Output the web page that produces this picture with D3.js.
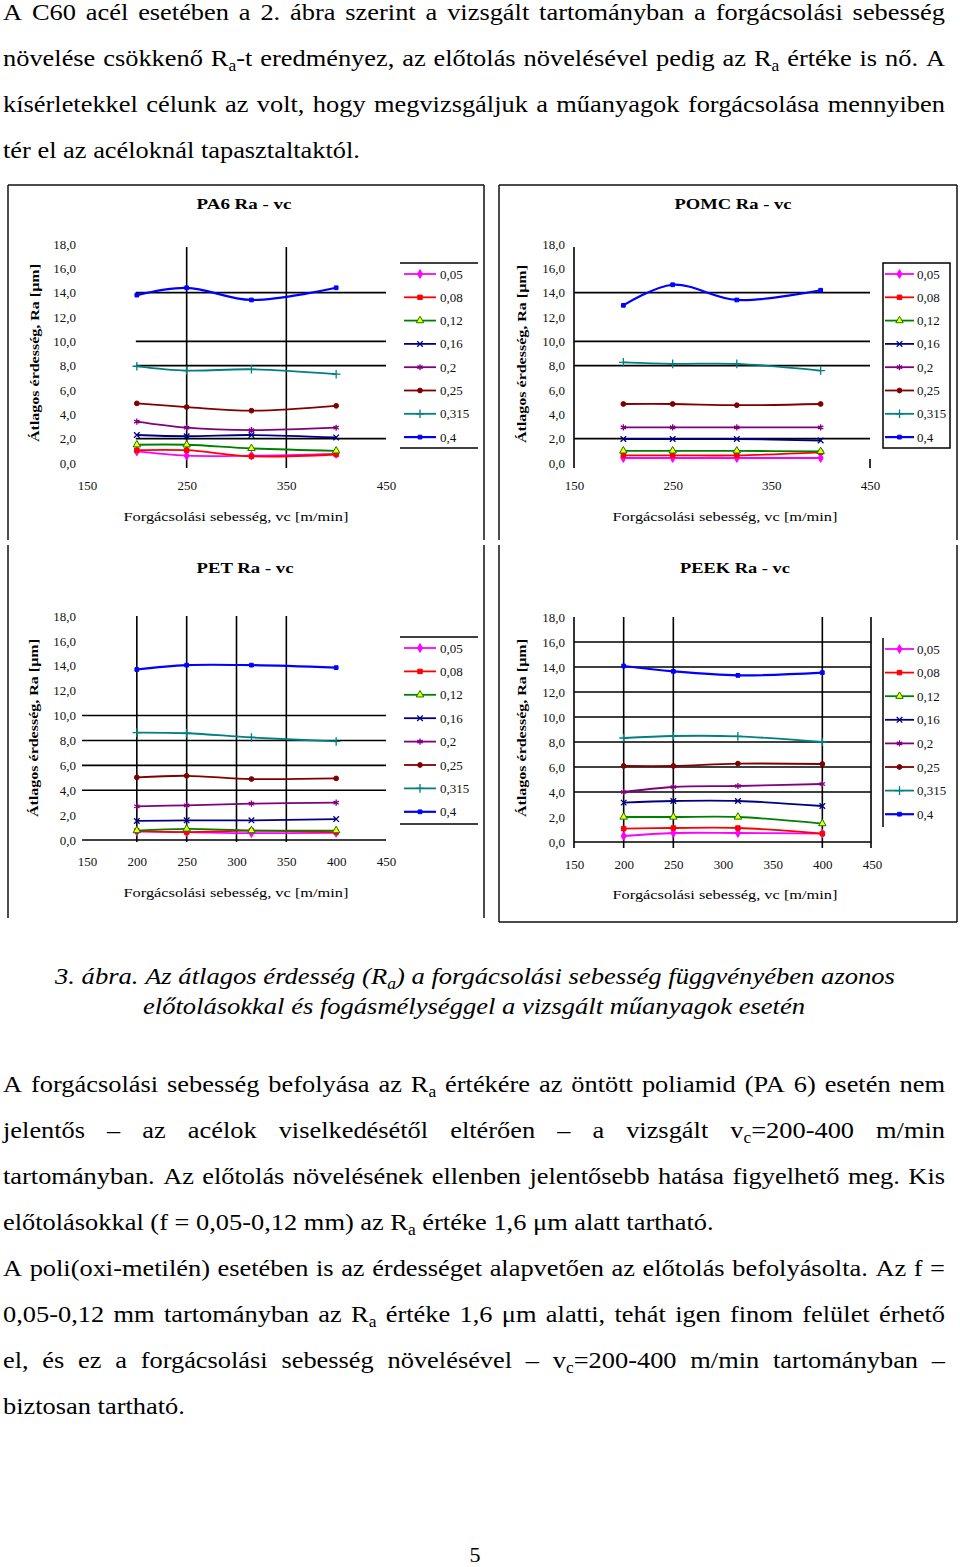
<!DOCTYPE html>
<html><head><meta charset="utf-8">
<script src="https://cdn.jsdelivr.net/npm/d3@7"></script>
<style>
body{margin:0;background:#fff;width:960px;height:1567px;overflow:hidden;}
</style></head>
<body>
<script>
// ---------------- DATA ----------------
const vc = [200, 250, 315, 400];
const feedLabels = ["0,05", "0,08", "0,12", "0,16", "0,2", "0,25", "0,315", "0,4"];
const seriesColors = ["#FF00FF", "#FF0000", "#008000", "#000080", "#800080", "#800000", "#008080", "#0000FF"];
const yTickValues = [0, 2, 4, 6, 8, 10, 12, 14, 16, 18];
const xTicksCoarse = [150, 250, 350, 450];
const xTicksFine = [150, 200, 250, 300, 350, 400, 450];

const pa6Ra = [
  [0.95, 0.6, 0.6, 0.75],
  [1.05, 1.05, 0.55, 0.7],
  [1.5, 1.5, 1.2, 1.0],
  [2.3, 2.2, 2.3, 2.1],
  [3.4, 2.9, 2.7, 2.9],
  [4.9, 4.6, 4.3, 4.7],
  [7.95, 7.6, 7.7, 7.3],
  [13.8, 14.4, 13.4, 14.4]
];
const pomcRa = [
  [0.41, 0.41, 0.41, 0.41],
  [0.63, 0.63, 0.63, 0.88],
  [1.0, 1.0, 1.0, 0.95],
  [1.97, 1.97, 1.97, 1.85],
  [2.93, 2.93, 2.93, 2.93],
  [4.85, 4.85, 4.75, 4.85],
  [8.27, 8.15, 8.15, 7.6],
  [12.96, 14.65, 13.4, 14.2]
];
const petRa = [
  [0.68, 0.63, 0.55, 0.58],
  [0.74, 0.63, 0.76, 0.63],
  [0.76, 0.89, 0.76, 0.76],
  [1.53, 1.58, 1.58, 1.68],
  [2.71, 2.79, 2.92, 3.0],
  [5.03, 5.16, 4.9, 4.95],
  [8.63, 8.58, 8.24, 7.92],
  [13.7, 14.05, 14.05, 13.85]
];
const peekRa = [
  [0.48, 0.72, 0.72, 0.67],
  [1.07, 1.12, 1.12, 0.67],
  [2.0, 2.0, 2.0, 1.47],
  [3.15, 3.28, 3.28, 2.88],
  [4.0, 4.4, 4.48, 4.64],
  [6.08, 6.08, 6.27, 6.24],
  [8.32, 8.48, 8.45, 8.0],
  [14.08, 13.65, 13.33, 13.55]
];
const chartTitles = ["PA6 Ra - vc", "POMC Ra - vc", "PET Ra - vc", "PEEK Ra - vc"];
const yAxisTitle = "Átlagos érdesség, Ra [µm]";
const xAxisTitle = "Forgácsolási sebesség, vc [m/min]";

// ---------------- TEXT ----------------
const para1 = [
  "A C60 acél esetében a 2. ábra szerint a vizsgált tartományban a forgácsolási sebesség",
  "növelése csökkenő R_{a}-t eredményez, az előtolás növelésével pedig az R_{a} értéke is nő. A",
  "kísérletekkel célunk az volt, hogy megvizsgáljuk a műanyagok forgácsolása mennyiben",
  "tér el az acéloknál tapasztaltaktól."
];
const caption = [
  "3. ábra. Az átlagos érdesség (R_{a}) a forgácsolási sebesség függvényében azonos",
  "előtolásokkal és fogásmélységgel a vizsgált műanyagok esetén"
];
const para2 = [
  "A forgácsolási sebesség befolyása az R_{a} értékére az öntött poliamid (PA 6) esetén nem",
  "jelentős – az acélok viselkedésétől eltérően – a vizsgált v_{c}=200-400 m/min",
  "tartományban. Az előtolás növelésének ellenben jelentősebb hatása figyelhető meg. Kis",
  "előtolásokkal (f = 0,05-0,12 mm) az R_{a} értéke 1,6 μm alatt tartható."
];
const para3 = [
  "A poli(oxi-metilén) esetében is az érdességet alapvetően az előtolás befolyásolta. Az f =",
  "0,05-0,12 mm tartományban az R_{a} értéke 1,6 μm alatti, tehát igen finom felület érhető",
  "el, és ez a forgácsolási sebesség növelésével – v_{c}=200-400 m/min tartományban –",
  "biztosan tartható."
];

const SERIF = "'Liberation Serif','Times New Roman',serif";
const svg = d3.select("body").append("svg")
  .attr("width", 960).attr("height", 1567).style("display", "block");
svg.append("rect").attr("width", 960).attr("height", 1567).attr("fill", "#fff");

function addWord(g, word, y, size, italic) {
  const t = g.append("text").attr("x", 0).attr("y", y)
    .attr("font-size", size).attr("font-family", SERIF).attr("fill", "#000");
  if (italic) t.attr("font-style", "italic");
  const parts = word.split(/(_\{[^}]*\})/).filter(s => s.length);
  let shifted = false;
  parts.forEach(p => {
    const m = p.match(/^_\{([^}]*)\}$/);
    if (m) {
      t.append("tspan").attr("dy", size * 0.22).attr("font-size", size * 0.66).text(m[1]);
      shifted = true;
    } else {
      const ts = t.append("tspan").text(p);
      if (shifted) { ts.attr("dy", -size * 0.22); shifted = false; }
    }
  });
  return t;
}

function drawTextLine(str, x0, y, width, mode, size, italic, sx) {
  const g = svg.append("g");
  const words = str.split(" ");
  const nodes = words.map(w => addWord(g, w, y, size, italic));
  const widths = nodes.map(n => n.node().getComputedTextLength() * sx);
  const total = d3.sum(widths);
  const sp = size * 0.25 * sx;
  let gap = sp;
  if (mode === "justify" && words.length > 1) gap = (width - total) / (words.length - 1);
  let cx = 0;
  nodes.forEach((n, i) => { n.attr("transform", `translate(${cx},0) scale(${sx},1)`); cx += widths[i] + gap; });
  if (mode === "center") {
    const natural = total + sp * (words.length - 1);
    g.attr("transform", `translate(${x0 - width / 2},0) scale(${width / natural},1)`);
  } else {
    g.attr("transform", `translate(${x0},0)`);
  }
}

function drawPara(lines, baseline0) {
  lines.forEach((l, i) => {
    drawTextLine(l, 3, baseline0 + i * 46, 942, i === lines.length - 1 ? "left" : "justify", 24, false, 1.1);
  });
}
drawPara(para1, 20);
drawPara(para2, 1092);
drawPara(para3, 1276);
drawTextLine(caption[0], 475, 984, 840, "center", 24, true, 1);
drawTextLine(caption[1], 474, 1014, 662, "center", 24, true, 1);
svg.append("text").attr("x", 475).attr("y", 1562).attr("text-anchor", "middle")
  .attr("font-family", SERIF).attr("font-size", 22).text("5");

// ---------------- FRAMES ----------------
const frame = svg.append("g").attr("stroke", "#111").attr("stroke-width", 1.5);
[[8, 185, 8, 540], [484, 185, 484, 540], [499, 185, 499, 540], [957, 185, 957, 540],
 [8, 545, 8, 918], [484, 545, 484, 918], [499, 545, 499, 922], [957, 545, 957, 922],
 [8, 185, 484, 185], [499, 185, 957, 185], [499, 922, 957, 922]]
  .forEach(d => frame.append("line").attr("x1", d[0]).attr("y1", d[1]).attr("x2", d[2]).attr("y2", d[3]));

// ---------------- CHARTS ----------------
const markerTypes = [
  {t: d3.symbolDiamond, s: 22, fill: true},
  {t: d3.symbolSquare, s: 20, fill: true},
  {t: d3.symbolTriangle, s: 24, fill: true, yellow: true},
  {t: d3.symbolTimes || d3.symbolCross, s: 22, fill: false},
  {t: d3.symbolAsterisk || d3.symbolStar, s: 26, fill: false},
  {t: d3.symbolCircle, s: 18, fill: true},
  {t: d3.symbolPlus || d3.symbolCross, s: 26, fill: false},
  {t: d3.symbolSquare, s: 14, fill: true}
];
const fmt = d => d3.format(".1f")(d).replace(".", ",");

const charts = [
  {title: chartTitles[0], data: pa6Ra, xTicks: xTicksCoarse, xr: [87, 386], yr: [463, 244],
   yGrid: [2, 8, 10, 14], gridFrom: 199, gridTo: 450, xGrid: [250, 350], vTop: 247, vBot: 468,
   yLabX: 76, xLabY: 487, titleXY: [244, 209], titleW: 95, yTitleXY: [35, 353], xTitleXY: [236, 521],
   leg: {x1: 404, x2: 436, lx: 440, y0: 274, dy: 23.3, kind: "hlines", fx1: 400, fx2: 478, fy1: 263, fy2: 448}},
  {title: chartTitles[1], data: pomcRa, xTicks: xTicksCoarse, xr: [574, 870], yr: [463, 244],
   yGrid: [2, 8, 10, 14], gridFrom: 150, gridTo: 450, xGrid: [150], vTop: 247, vBot: 468, shortRight: true,
   yLabX: 565, xLabY: 487, titleXY: [733, 209], titleW: 117, yTitleXY: [522, 354], xTitleXY: [725, 521],
   leg: {x1: 885, x2: 914, lx: 917, y0: 274, dy: 23.3, kind: "box", fx1: 883, fx2: 950, fy1: 263, fy2: 448}},
  {title: chartTitles[2], data: petRa, xTicks: xTicksFine, xr: [87, 386], yr: [840, 616],
   yGrid: [0, 4, 6, 8, 10], gridFrom: 145, gridTo: 450, xGrid: [200, 250, 300, 350], vTop: 616, vBot: 842,
   yLabX: 76, xLabY: 863, titleXY: [245, 573], titleW: 97, yTitleXY: [34, 728], xTitleXY: [236, 897],
   leg: {x1: 404, x2: 436, lx: 440, y0: 648, dy: 23.4, kind: "hlines", fx1: 400, fx2: 478, fy1: 637, fy2: 824}},
  {title: chartTitles[3], data: peekRa, xTicks: xTicksFine, xr: [574, 872], yr: [842, 617],
   yGrid: [0, 4, 6, 8, 10, 12, 14, 16], gridFrom: 150, gridTo: 449, xGrid: [150, 200, 250, 400, 449], vTop: 617, vBot: 848,
   yLabX: 565, xLabY: 866, titleXY: [735, 573], titleW: 110, yTitleXY: [522, 728], xTitleXY: [725, 899],
   leg: {x1: 885, x2: 914, lx: 917, y0: 649, dy: 23.6, kind: "vline", fx1: 883, fx2: 883, fy1: 638, fy2: 827}}
];

function drawMarker(g, i, px, py, color) {
  const m = markerTypes[i];
  const p = g.append("path").attr("d", d3.symbol().type(m.t).size(m.s)())
    .attr("transform", `translate(${px},${py})`);
  if (m.fill) p.attr("fill", m.yellow ? "#FFFF00" : color).attr("stroke", color).attr("stroke-width", 1);
  else p.attr("fill", "none").attr("stroke", color).attr("stroke-width", 1.3);
}

charts.forEach(c => {
  const g = svg.append("g");
  const x = d3.scaleLinear().domain([150, 450]).range(c.xr);
  const y = d3.scaleLinear().domain([0, 18]).range(c.yr);

  // grid
  g.selectAll(null).data(c.yGrid).join("line")
    .attr("x1", x(c.gridFrom)).attr("x2", x(c.gridTo))
    .attr("y1", d => y(d)).attr("y2", d => y(d))
    .attr("stroke", "#000").attr("stroke-width", 1.6);
  g.selectAll(null).data(c.xGrid).join("line")
    .attr("x1", d => x(d)).attr("x2", d => x(d))
    .attr("y1", c.vTop).attr("y2", c.vBot)
    .attr("stroke", "#000").attr("stroke-width", 1.6);
  if (c.shortRight) {
    g.append("line").attr("x1", x(450)).attr("x2", x(450)).attr("y1", y(0) - 4).attr("y2", c.vBot)
      .attr("stroke", "#000").attr("stroke-width", 1.6);
  }

  // axes (labels only)
  const ya = g.append("g").attr("transform", `translate(${c.yLabX},0)`)
    .call(d3.axisLeft(y).tickValues(yTickValues).tickSize(0).tickPadding(0).tickFormat(fmt));
  ya.select(".domain").remove();
  ya.attr("font-family", SERIF).attr("font-size", 13);
  ya.selectAll("text").attr("fill", "#111");

  const xa = g.append("g").attr("transform", `translate(0,${c.xLabY - 6.5})`)
    .call(d3.axisBottom(x).tickValues(c.xTicks).tickSize(0).tickPadding(0).tickFormat(d3.format("d")));
  xa.select(".domain").remove();
  xa.attr("font-family", SERIF).attr("font-size", 13);
  xa.selectAll("text").attr("fill", "#111");

  // titles
  g.append("text").attr("x", c.titleXY[0]).attr("y", c.titleXY[1]).attr("text-anchor", "middle")
    .attr("font-family", SERIF).attr("font-weight", "bold").attr("font-size", 15)
    .attr("textLength", c.titleW).attr("lengthAdjust", "spacingAndGlyphs").text(c.title);
  g.append("text").attr("transform", `translate(${c.yTitleXY[0] + 4},${c.yTitleXY[1]}) rotate(-90)`)
    .attr("text-anchor", "middle").attr("font-family", SERIF).attr("font-weight", "bold").attr("font-size", 13)
    .attr("textLength", 178).attr("lengthAdjust", "spacingAndGlyphs").text(yAxisTitle);
  g.append("text").attr("x", c.xTitleXY[0]).attr("y", c.xTitleXY[1]).attr("text-anchor", "middle")
    .attr("font-family", SERIF).attr("font-size", 13)
    .attr("textLength", 225).attr("lengthAdjust", "spacingAndGlyphs").text(xAxisTitle);

  // series
  const line = d3.line().x(d => x(d[0])).y(d => y(d[1])).curve(d3.curveCatmullRom.alpha(0.5));
  c.data.forEach((vals, i) => {
    const pts = vc.map((v, j) => [v, vals[j]]);
    g.append("path").attr("d", line(pts)).attr("fill", "none")
      .attr("stroke", seriesColors[i]).attr("stroke-width", i === 7 ? 2.2 : 1.8);
    pts.forEach(p => drawMarker(g, i, x(p[0]), y(p[1]), seriesColors[i]));
  });

  // legend
  const L = c.leg;
  const lg = g.append("g");
  if (L.kind === "hlines") {
    lg.append("line").attr("x1", L.fx1).attr("x2", L.fx2).attr("y1", L.fy1).attr("y2", L.fy1).attr("stroke", "#000").attr("stroke-width", 1.5);
    lg.append("line").attr("x1", L.fx1).attr("x2", L.fx2).attr("y1", L.fy2).attr("y2", L.fy2).attr("stroke", "#000").attr("stroke-width", 1.5);
  } else if (L.kind === "box") {
    lg.append("rect").attr("x", L.fx1).attr("y", L.fy1).attr("width", L.fx2 - L.fx1).attr("height", L.fy2 - L.fy1)
      .attr("fill", "none").attr("stroke", "#000").attr("stroke-width", 1.5);
  } else {
    lg.append("line").attr("x1", L.fx1).attr("x2", L.fx1).attr("y1", L.fy1).attr("y2", L.fy2).attr("stroke", "#000").attr("stroke-width", 1.5);
  }
  feedLabels.forEach((lab, i) => {
    const yy = L.y0 + i * L.dy;
    lg.append("line").attr("x1", L.x1).attr("x2", L.x2).attr("y1", yy).attr("y2", yy)
      .attr("stroke", seriesColors[i]).attr("stroke-width", i === 7 ? 2.2 : 1.8);
    drawMarker(lg, i, (L.x1 + L.x2) / 2, yy, seriesColors[i]);
    lg.append("text").attr("x", L.lx).attr("y", yy + 4.5).attr("font-family", SERIF).attr("font-size", 13)
      .attr("fill", "#111").text(lab);
  });
});
</script>
</body></html>
